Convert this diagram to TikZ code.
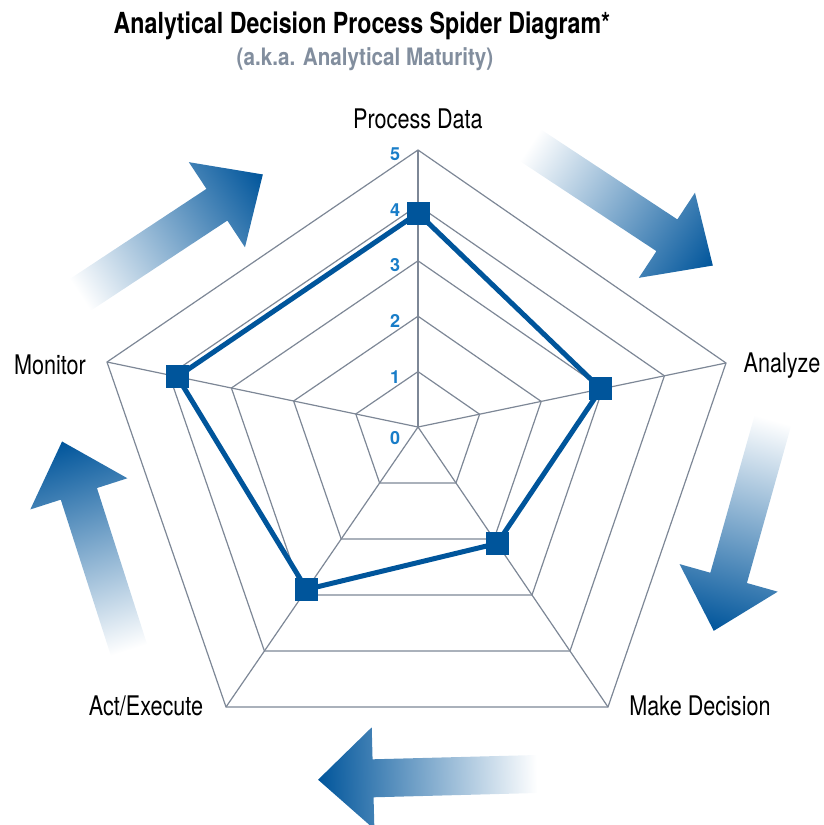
\documentclass[tikz,border=0pt]{standalone}
\usepackage{fontspec}
\setmainfont[FakeStretch=0.8]{TeX Gyre Heros}
\newfontfamily\titlefont[FakeStretch=0.8]{TeX Gyre Heros}
\newfontfamily\subfont[FakeStretch=0.86]{TeX Gyre Heros}
\newfontfamily\levelfont{TeX Gyre Heros}
\usepackage{xcolor}
\usetikzlibrary{calc}
\definecolor{spiderblue}{RGB}{0,85,155}
\definecolor{levelblue}{RGB}{25,125,200}
\definecolor{gridgrey}{RGB}{125,135,150}
\definecolor{subgrey}{RGB}{130,142,158}

\begin{document}
\begin{tikzpicture}[x=1pt, y=-1pt,
    grid/.style={draw=gridgrey, line width=1.2pt},
    axislabel/.style={font=\fontsize{27}{27}\selectfont, inner sep=0pt, anchor=base},
    level/.style={text=levelblue, font=\levelfont\bfseries\fontsize{18}{18}\selectfont, inner sep=0pt},
    marker/.style={fill=spiderblue, minimum size=23pt, inner sep=0pt},
    fatarrow/.style={left color=white, right color=spiderblue, draw=none}]
  \useasboundingbox (0,0) rectangle (824,825);

  \node[font=\titlefont\bfseries\fontsize{29}{29}\selectfont, anchor=base] (title) at (362,33) {Analytical Decision Process Spider Diagram*};
  \node[text=subgrey, font=\subfont\bfseries\fontsize{24}{24}\selectfont, anchor=base] (subtitle) at (365,65) {(a.k.a. Analytical Maturity)};

  % fading arrows round the web
  \foreach \x/\y/\a in {530/145/-33.4, 773/420/-105.7, 537/774/181.5, 129/650/107.8, 80/295/33.4} {
    \begin{scope}[transform canvas={shift={(\x,\y)}, rotate=\a}]
      \shade[fatarrow] (0,-19) -- (164,-19) -- (164,-51) -- (219,0) -- (164,51) -- (164,19) -- (0,19) -- cycle;
    \end{scope}
  }

  % web
  \coordinate (c) at (418,427);
  \foreach \name/\dx/\dy in {pd/0/-277, an/308/-64, md/190/280, ae/-192/280, mo/-311/-65}
    \path (c) ++(\dx,\dy) coordinate (\name);
  \foreach \k in {1,...,5}
    \draw[grid] ($(c)!\k/5!(pd)$) -- ($(c)!\k/5!(an)$) -- ($(c)!\k/5!(md)$) -- ($(c)!\k/5!(ae)$) -- ($(c)!\k/5!(mo)$) -- cycle;
  \foreach \name in {pd,an,md,ae,mo}
    \draw[grid] (c) -- (\name);

  \foreach \k/\y in {0/438,1/377,2/321,3/265,4/210,5/154}
    \node[level] (lv\k) at (395,\y) {\k};

  \node[axislabel] (lpd) at (418,128) {Process Data};
  \node[axislabel] (lan) at (782,372) {Analyze};
  \node[axislabel] (lmd) at (700,715) {Make Decision};
  \node[axislabel] (lae) at (146,715) {Act/Execute};
  \node[axislabel] (lmo) at (50,374) {Monitor};

  % scores
  \foreach \name/\v in {pd/3.86, an/2.97, md/2.08, ae/2.9, mo/3.87}
    \coordinate (d\name) at ($(c)!\v/5!(\name)$);
  \draw[spiderblue, line width=5pt] (dpd) -- (dan) -- (dmd) -- (dae) -- (dmo) -- cycle;
  \foreach \name in {pd,an,md,ae,mo}
    \node[marker] (m\name) at (d\name) {};
\end{tikzpicture}
\end{document}
